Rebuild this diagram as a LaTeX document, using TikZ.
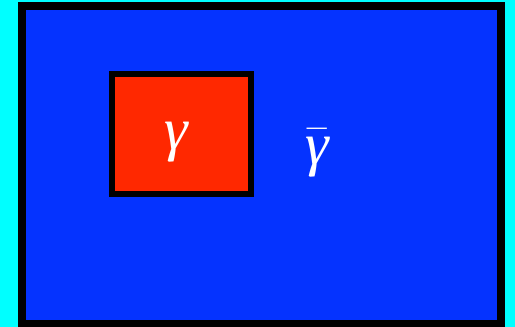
\documentclass[tikz,border=0pt]{standalone}
\usepackage{amsmath,amssymb}
\usepackage{fontspec}
\newfontfamily\labelfont{Liberation Serif}
\usepackage{tikz}
\usetikzlibrary{positioning,calc}
\definecolor{bgcyan}{RGB}{0,255,255}
\definecolor{setblue}{RGB}{5,51,255}
\definecolor{setred}{RGB}{255,40,0}

\begin{document}
\begin{tikzpicture}[
    x=1pt, y=1pt,
    region/.style={draw=black, fill=setblue, line width=8pt, inner sep=0pt, minimum width=479pt, minimum height=318pt},
    subset/.style={draw=black, fill=setred, line width=6pt, inner sep=0pt, minimum width=139.5pt, minimum height=120.5pt},
    lbl/.style={text=white, font=\labelfont\itshape\Huge, scale=2.4, transform shape},
]
    % Background
    \fill[bgcyan] (0,0) rectangle (515,327);
    \useasboundingbox (0,0) rectangle (515,327);

    % Universe and subset
    \node[region] (space) at (261.5, 162) {};
    \node[subset] (gamma) at (181.25, 192.75) {};

    % Labels
    \node[lbl] (glabel) at (176, 185) {γ};
    \node[lbl] (gbar) at (317, 174) {$\bar{\text{γ}}$};
\end{tikzpicture}
\end{document}
